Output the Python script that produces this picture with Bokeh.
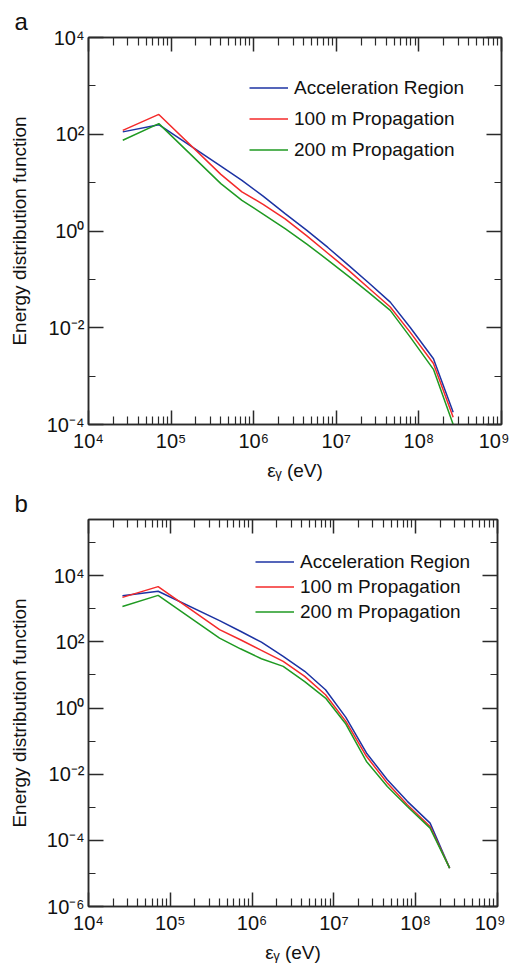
from bokeh.plotting import figure
from bokeh.layouts import column
from bokeh.models import (FixedTicker, LogAxis, CustomJSTickFormatter, Range1d)
from bokeh.embed import file_html
from bokeh.resources import INLINE

# ---- data ----
energy_ev = [2.6e4, 7.1e4, 4.0e5, 7.2e5, 1.3e6, 2.4e6, 4.4e6, 7.9e6,
             1.4e7, 2.5e7, 4.5e7, 7.9e7, 1.5e8, 2.6e8]

series_names = ["Acceleration Region", "100 m Propagation", "200 m Propagation"]

# panel a
a_accel = [112, 158, 21.9, 11.1, 5.25, 2.29, 1.03, 0.457, 0.197, 0.0832,
           0.0339, 0.0100, 0.00229, 0.000180]
a_100m = [120, 257, 14.8, 6.46, 3.55, 1.78, 0.794, 0.347, 0.155, 0.0646,
          0.0269, 0.00794, 0.00182, 0.000141]
a_200m = [75, 166, 9.55, 4.31, 2.24, 1.12, 0.537, 0.251, 0.117, 0.0525,
          0.0229, 0.00631, 0.00138, 0.000100]

# panel b
b_accel = [2480, 3390, 437, 209, 97.7, 36.3, 12.9, 3.57, 0.520, 0.0437,
           0.00676, 0.00151, 0.000331, 1.45e-5]
b_100m = [2210, 4680, 234, 116, 55.0, 25.7, 9.04, 2.51, 0.394, 0.0347,
          0.00537, 0.00119, 0.000263, 1.45e-5]
b_200m = [1175, 2540, 130, 61.7, 30.9, 18.2, 6.31, 2.00, 0.327, 0.0243,
          0.00427, 0.00105, 0.000234, 1.45e-5]

x_major = [1e4, 1e5, 1e6, 1e7, 1e8, 1e9]
x_minor = [m * d for d in [1e4, 1e5, 1e6, 1e7, 1e8] for m in range(2, 10)]

a_y_major = [1e-4, 1e-2, 1e0, 1e2, 1e4]
a_y_minor = [1e-3, 1e-1, 1e1, 1e3]
b_y_major = [1e-6, 1e-4, 1e-2, 1e0, 1e2, 1e4]
b_y_minor = [1e-5, 1e-3, 1e-1, 1e1, 1e3, 1e5]

colors = ["#1c33a3", "#f42a2a", "#1f9a22"]
FONT = "Liberation Sans"
AXC = "#2a2a2a"

sup_code = """
const e = Math.round(Math.log10(tick));
const sup = {'-':'\u207b','0':'\u2070','1':'\u00b9','2':'\u00b2','3':'\u00b3','4':'\u2074',
             '5':'\u2075','6':'\u2076','7':'\u2077','8':'\u2078','9':'\u2079'};
return '10' + String(e).split('').map(c => sup[c]).join('');
"""


def style_axis(ax, labels=True, maj_in=15, min_in=7):
    ax.axis_line_color = AXC
    ax.axis_line_width = 1.5
    ax.major_tick_line_color = AXC
    ax.minor_tick_line_color = AXC
    ax.major_tick_line_width = 1.5
    ax.minor_tick_line_width = 1.2
    ax.major_tick_in = maj_in
    ax.major_tick_out = 0
    ax.minor_tick_in = min_in
    ax.minor_tick_out = 0
    if labels:
        ax.major_label_text_font = FONT
        ax.major_label_text_font_size = "20px"
        ax.major_label_text_color = "#111111"
        ax.axis_label_text_font = FONT
        ax.axis_label_text_font_size = "19px"
        ax.axis_label_text_font_style = "normal"
        ax.axis_label_text_color = "#111111"
    else:
        ax.major_label_text_font_size = "1px"
        ax.major_label_text_color = None
        ax.major_label_standoff = 0


def make_panel(letter, ys, y_lo, y_hi, y_major, y_minor, fw, top, bottom,
               leg_x, leg_y, leg_spacing):
    p = figure(x_axis_type="log", y_axis_type="log",
               x_range=Range1d(1e4, 1e9), y_range=Range1d(y_lo, y_hi),
               frame_width=fw, frame_height=387,
               min_border_left=88, min_border_right=8,
               min_border_top=top, min_border_bottom=bottom,
               output_backend="svg", toolbar_location=None)
    p.xgrid.visible = False
    p.ygrid.visible = False
    p.outline_line_color = AXC
    p.outline_line_width = 1.5
    p.background_fill_color = "white"
    p.border_fill_color = "white"

    p.title.text = letter
    p.title.align = "left"
    p.title.offset = -74
    p.title.text_font = FONT
    p.title.text_font_size = "24px"
    p.title.text_font_style = "normal"
    p.title.text_color = "#111111"
    p.title.standoff = 6

    p.xaxis.ticker = FixedTicker(ticks=x_major, minor_ticks=x_minor)
    p.yaxis.ticker = FixedTicker(ticks=y_major, minor_ticks=y_minor)
    p.xaxis.formatter = CustomJSTickFormatter(code=sup_code)
    p.yaxis.formatter = CustomJSTickFormatter(code=sup_code)
    p.xaxis.axis_label = "\u03b5\u1d67 (eV)"
    p.yaxis.axis_label = "Energy distribution function"
    style_axis(p.xaxis[0], True, 14, 8)
    style_axis(p.yaxis[0], True, 15, 7)
    p.xaxis.major_label_standoff = 5
    p.xaxis.axis_label_standoff = 5
    p.yaxis.major_label_standoff = 4
    p.yaxis.axis_label_standoff = 14

    top_ax = LogAxis(ticker=FixedTicker(ticks=x_major, minor_ticks=x_minor))
    right_ax = LogAxis(ticker=FixedTicker(ticks=y_major, minor_ticks=y_minor))
    style_axis(top_ax, False, 14, 8)
    style_axis(right_ax, False, 15, 7)
    p.add_layout(top_ax, "above")
    p.add_layout(right_ax, "right")

    for name, vals, c in zip(series_names, ys, colors):
        p.line(energy_ev, vals, line_color=c, line_width=1.5, legend_label=name)

    lg = p.legend[0]
    lg.location = (leg_x, leg_y)
    lg.border_line_color = None
    lg.background_fill_alpha = 0
    lg.padding = 0
    lg.margin = 0
    lg.spacing = leg_spacing
    lg.glyph_width = 39
    lg.glyph_height = 23
    lg.label_height = 23
    lg.label_standoff = 6
    lg.label_text_font = FONT
    lg.label_text_font_size = "19px"
    lg.label_text_color = "#111111"
    return p


pa = make_panel("a", [a_accel, a_100m, a_200m], 1e-4, 1e4, a_y_major, a_y_minor,
                413, 37, 58, 161, 263, 8)
pb = make_panel("b", [b_accel, b_100m, b_200m], 1e-6, 5e5, b_y_major, b_y_minor,
                409, 36, 57, 167, 283, 2)

layout = column(pa, pb, spacing=0)
open("out.html", "w").write(file_html(layout, INLINE))
